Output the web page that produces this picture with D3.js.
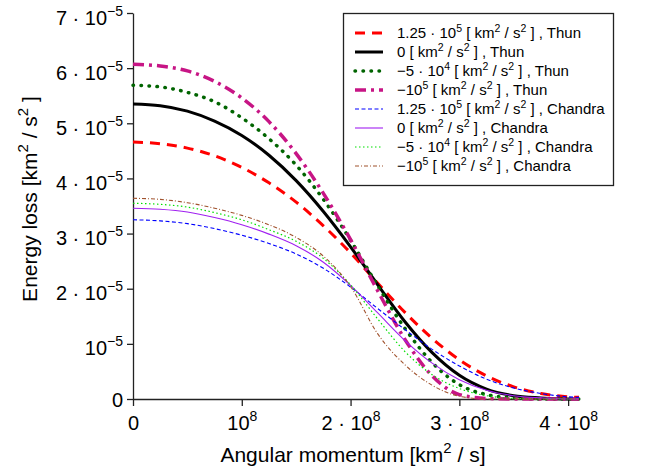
<!DOCTYPE html>
<html>
<head>
<meta charset="utf-8">
<script src="https://cdn.jsdelivr.net/npm/d3@7"></script>
<style>
  body { margin: 0; background: #fff; }
  svg { display: block; font-family: "Liberation Sans", Arial, Helvetica, sans-serif; }
</style>
</head>
<body>
<div id="chart"></div>
<script>
// angular momentum grid [km^2 / s]
const angularMomentum = [0, 0.25e8, 0.5e8, 0.75e8, 1e8, 1.25e8, 1.5e8, 1.75e8, 2e8,
  2.25e8, 2.5e8, 2.75e8, 3e8, 3.25e8, 3.5e8, 3.75e8, 4e8, 4.1e8];

// energy loss, in units of 1e-5 km^2/s^2
const thunPlus125 = [4.66, 4.63, 4.55, 4.41, 4.20, 3.92, 3.57, 3.14, 2.65, 2.10, 1.57, 1.10, 0.71, 0.42, 0.22, 0.10, 0.04, 0.03];
const thunZero = [5.35, 5.32, 5.22, 5.04, 4.78, 4.42, 3.96, 3.40, 2.76, 2.07, 1.40, 0.84, 0.43, 0.18, 0.06, 0.02, 0, 0];
const thunMinus5 = [5.69, 5.66, 5.56, 5.39, 5.10, 4.72, 4.24, 3.62, 2.88, 2.05, 1.28, 0.66, 0.26, 0.08, 0.02, 0, 0, 0];
const thunMinus10 = [6.07, 6.04, 5.95, 5.76, 5.46, 5.03, 4.45, 3.73, 2.89, 1.96, 1.08, 0.42, 0.08, 0.01, 0, 0, 0, 0];
const chandraPlus125 = [3.25, 3.23, 3.18, 3.09, 2.97, 2.82, 2.63, 2.37, 2.03, 1.64, 1.26, 0.90, 0.60, 0.36, 0.20, 0.10, 0.04, 0.03];
const chandraZero = [3.46, 3.44, 3.39, 3.29, 3.16, 2.99, 2.78, 2.48, 2.06, 1.56, 1.06, 0.65, 0.35, 0.16, 0.06, 0.02, 0, 0];
const chandraMinus5 = [3.55, 3.53, 3.48, 3.38, 3.25, 3.07, 2.86, 2.55, 2.07, 1.45, 0.86, 0.44, 0.19, 0.06, 0.01, 0, 0, 0];
const chandraMinus10 = [3.64, 3.62, 3.56, 3.46, 3.33, 3.16, 2.93, 2.59, 2.04, 1.18, 0.62, 0.25, 0.05, 0, 0, 0, 0, 0];

const energyUnit = 1e-5;

// "^" marks a superscript piece
const legendValues = [["1.25 · 10", "^5"], ["0"], ["−5 · 10", "^4"], ["−10", "^5"],
  ["1.25 · 10", "^5"], ["0"], ["−5 · 10", "^4"], ["−10", "^5"]];
const legendModels = ["Thun", "Thun", "Thun", "Thun", "Chandra", "Chandra", "Chandra", "Chandra"];

const xTicks = [0, 1e8, 2e8, 3e8, 4e8];
const xTickLabels = [["0"], ["10", "^8"], ["2 · 10", "^8"], ["3 · 10", "^8"], ["4 · 10", "^8"]];
const yTicks = [0, 1e-5, 2e-5, 3e-5, 4e-5, 5e-5, 6e-5, 7e-5];
const yTickLabels = [["0"], ["10", "^−5"], ["2 · 10", "^−5"], ["3 · 10", "^−5"], ["4 · 10", "^−5"],
  ["5 · 10", "^−5"], ["6 · 10", "^−5"], ["7 · 10", "^−5"]];

const seriesValues = [thunPlus125, thunZero, thunMinus5, thunMinus10,
  chandraPlus125, chandraZero, chandraMinus5, chandraMinus10];
const seriesStyles = [
  { color: "#ff0000", width: 3, dash: "10,7", cap: "butt" },
  { color: "#000000", width: 3, dash: null, cap: "butt" },
  { color: "#006400", width: 3.5, dash: "0.5,7.5", cap: "round" },
  { color: "#c71585", width: 3.5, dash: "11,5,3,5", cap: "butt" },
  { color: "#0000ff", width: 1.1, dash: "4,2.5", cap: "butt" },
  { color: "#a020f0", width: 1.1, dash: null, cap: "butt" },
  { color: "#00e000", width: 1.2, dash: "1.5,2.5", cap: "butt" },
  { color: "#a0522d", width: 1.1, dash: "4,2,1,2", cap: "butt" }
];

const width = 660, height = 471;
const margin = { top: 13, right: 81, bottom: 72, left: 133 };

const svg = d3.select("#chart").append("svg")
  .attr("width", width)
  .attr("height", height);

const x = d3.scaleLinear().domain([0, 4.1e8]).range([margin.left, width - margin.right]);
const y = d3.scaleLinear().domain([0, 7e-5]).range([height - margin.bottom, margin.top]);

function addRich(text, parts, supSize, raise) {
  let shifted = false;
  parts.forEach(p => {
    const isSup = p.startsWith("^");
    const ts = text.append("tspan").text(isSup ? p.slice(1) : p);
    if (isSup) {
      ts.attr("font-size", supSize);
      if (!shifted) { ts.attr("dy", -raise); shifted = true; }
    } else if (shifted) {
      ts.attr("dy", raise);
      shifted = false;
    }
  });
}

// axes
const gx = svg.append("g")
  .attr("transform", `translate(0,${y(0)})`)
  .call(d3.axisBottom(x).tickValues(xTicks).tickSize(7).tickSizeOuter(0).tickFormat(() => ""));
gx.selectAll(".tick text").each(function (d, i) {
  const t = d3.select(this).attr("y", 31).attr("dy", null)
    .attr("font-size", 20).attr("fill", "#000");
  addRich(t, xTickLabels[i], 14, 9);
});

const gy = svg.append("g")
  .attr("transform", `translate(${x(0)},0)`)
  .call(d3.axisLeft(y).tickValues(yTicks).tickSize(6).tickSizeOuter(0).tickFormat(() => ""));
gy.selectAll(".tick text").each(function (d, i) {
  const lab = yTickLabels[i];
  const t = d3.select(this).attr("x", -10).attr("dy", null)
    .attr("y", lab.length > 1 ? 11 : 7)
    .attr("font-size", 20).attr("fill", "#000");
  addRich(t, lab, 14, 9);
});
svg.selectAll(".domain, .tick line").attr("stroke", "#222").attr("stroke-width", 1.3);

// axis titles
const xTitle = svg.append("text")
  .attr("x", 353).attr("y", 462)
  .attr("text-anchor", "middle")
  .attr("font-size", 21);
addRich(xTitle, ["Angular momentum [km", "^2", " / s]"], 15, 9);

const yTitle = svg.append("text")
  .attr("transform", "translate(37,199) rotate(-90)")
  .attr("text-anchor", "middle")
  .attr("font-size", 21);
addRich(yTitle, ["Energy loss [km", "^2", " / s", "^2", " ]"], 15, 9);

// curves
const line = d3.line()
  .x(d => x(d[0]))
  .y(d => y(d[1] * energyUnit))
  .curve(d3.curveMonotoneX);

seriesValues.forEach((vals, i) => {
  const st = seriesStyles[i];
  svg.append("path")
    .datum(angularMomentum.map((L, j) => [L, vals[j]]))
    .attr("fill", "none")
    .attr("stroke", st.color)
    .attr("stroke-width", st.width)
    .attr("stroke-dasharray", st.dash)
    .attr("stroke-linecap", st.cap)
    .attr("d", line);
});

// legend
const legend = svg.append("g");
legend.append("rect")
  .attr("x", 343.5).attr("y", 13.5)
  .attr("width", 270).attr("height", 172)
  .attr("fill", "#fff")
  .attr("stroke", "#222").attr("stroke-width", 1.3);

legendValues.forEach((v, i) => {
  const st = seriesStyles[i];
  const cy = 33 + i * 19;
  legend.append("line")
    .attr("x1", 355).attr("x2", 383)
    .attr("y1", cy).attr("y2", cy)
    .attr("stroke", st.color)
    .attr("stroke-width", st.width)
    .attr("stroke-dasharray", st.dash)
    .attr("stroke-linecap", st.cap);
  const t = legend.append("text")
    .attr("x", 397).attr("y", cy + 5)
    .attr("font-size", 15);
  addRich(t, [...v, " [ km", "^2", " / s", "^2", " ] , " + legendModels[i]], 10.5, 6);
});
</script>
</body>
</html>
